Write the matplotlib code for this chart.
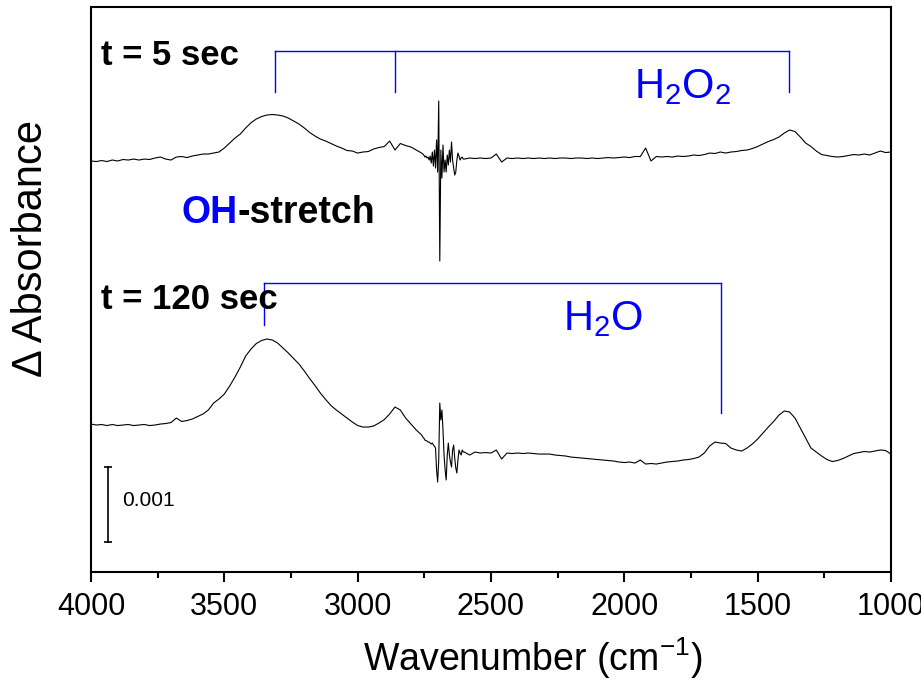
"""Stacked difference IR spectra (t = 5 s and t = 120 s) with band assignments."""

import matplotlib

matplotlib.use("Agg")
import matplotlib.pyplot as plt
import numpy as np

plt.rcParams["font.family"] = ["Liberation Sans", "DejaVu Sans"]
plt.rcParams["mathtext.fontset"] = "custom"
plt.rcParams["mathtext.rm"] = "Liberation Sans"
plt.rcParams["mathtext.it"] = "Liberation Sans:italic"
plt.rcParams["mathtext.bf"] = "Liberation Sans:bold"

# wavenumber grid (cm-1): coarse, fine around the 2700 ringing, coarse
wn_a = np.arange(4000, 2759, -20)
wn_b = np.arange(2756, 2603, -4)
wn_c = np.arange(2600, 999, -20)
wavenumber = np.concatenate([wn_a, wn_b, wn_c])

# delta absorbance in units of 1e-3
dA_5s_a = [
    -0.013, -0.02, -0.007, -0.02, 0.0, -0.013, 0.007, 0.0, 0.013, 0.0,
    0.013, 0.007, 0.027, 0.04, 0.013, 0.0, 0.04, 0.047, 0.033, 0.053,
    0.067, 0.08, 0.08, 0.093, 0.107, 0.16, 0.227, 0.293, 0.347, 0.427,
    0.497, 0.547, 0.58, 0.60, 0.607, 0.60, 0.587, 0.56, 0.52, 0.48,
    0.427, 0.367, 0.32, 0.28, 0.253, 0.22, 0.187, 0.16, 0.127, 0.12,
    0.093, 0.107, 0.113, 0.147, 0.167, 0.18, 0.253, 0.133, 0.22, 0.193,
    0.173, 0.133, 0.093,
]
dA_5s_b = [
    0.08, 0.067, 0.04, 0.053, 0.027, 0.04, 0.0, 0.053, -0.04, 0.107,
    -0.08, 0.133, -0.107, 0.267, -0.16, 0.787, -1.347, 0.133, -0.24, 0.2,
    -0.16, 0.0, -0.16, 0.067, -0.067, 0.133, -0.027, 0.24, 0.0, -0.107,
    -0.2, -0.16, 0.0, 0.093, 0.053, 0.0, 0.027, 0.04, 0.013,
]
dA_5s_c = [
    0.013, 0.027, 0.02, 0.027, 0.02, 0.027, 0.08, -0.027, 0.027, 0.02,
    0.027, 0.02, 0.027, 0.02, 0.027, 0.02, 0.027, 0.02, 0.027, 0.027,
    0.02, 0.027, 0.027, 0.02, 0.027, 0.02, 0.027, 0.033, 0.027, 0.033,
    0.04, 0.033, 0.047, 0.047, 0.16, -0.013, 0.047, 0.04, 0.047, 0.04,
    0.053, 0.047, 0.053, 0.067, 0.06, 0.073, 0.093, 0.087, 0.107, 0.093,
    0.107, 0.113, 0.127, 0.133, 0.153, 0.18, 0.213, 0.247, 0.273, 0.307,
    0.36, 0.40, 0.38, 0.307, 0.227, 0.18, 0.12, 0.073, 0.06, 0.047,
    0.04, 0.047, 0.06, 0.073, 0.067, 0.08, 0.067, 0.093, 0.12, 0.10,
    0.107,
]

dA_120s_a = [
    0.013, 0.0, 0.007, -0.007, 0.007, -0.007, 0.0, 0.007, -0.007, 0.0,
    0.007, -0.007, 0.0, 0.013, 0.02, 0.033, 0.093, 0.047, 0.06, 0.08,
    0.113, 0.147, 0.2, 0.293, 0.347, 0.413, 0.52, 0.64, 0.773, 0.92,
    1.013, 1.087, 1.127, 1.147, 1.133, 1.093, 1.027, 0.96, 0.887, 0.813,
    0.72, 0.62, 0.527, 0.427, 0.34, 0.26, 0.2, 0.147, 0.093, 0.04,
    -0.007, -0.027, -0.027, -0.013, 0.027, 0.073, 0.147, 0.24, 0.2, 0.093,
    0.013, -0.067, -0.133,
]
dA_120s_b = [
    -0.16, -0.173, -0.2, -0.207, -0.213, -0.227, -0.227, -0.24, -0.253, -0.24,
    -0.267, -0.28, -0.307, -0.6, -0.76, -0.467, 0.293, 0.067, 0.2, -0.067,
    -0.4, -0.6, -0.733, -0.4, -0.24, -0.4, -0.493, -0.56, -0.333, -0.267,
    -0.44, -0.573, -0.64, -0.467, -0.333, -0.373, -0.4, -0.333, -0.36,
]
dA_120s_c = [
    -0.36, -0.4, -0.36, -0.373, -0.367, -0.373, -0.333, -0.453, -0.373, -0.38,
    -0.373, -0.38, -0.373, -0.38, -0.387, -0.387, -0.387, -0.4, -0.407, -0.413,
    -0.427, -0.433, -0.44, -0.447, -0.453, -0.46, -0.467, -0.473, -0.48, -0.493,
    -0.5, -0.493, -0.507, -0.467, -0.52, -0.513, -0.52, -0.507, -0.493, -0.487,
    -0.48, -0.467, -0.46, -0.447, -0.427, -0.373, -0.28, -0.227, -0.24, -0.247,
    -0.307, -0.333, -0.347, -0.307, -0.253, -0.187, -0.107, -0.027, 0.047, 0.133,
    0.187, 0.173, 0.093, -0.04, -0.173, -0.307, -0.36, -0.413, -0.46, -0.487,
    -0.473, -0.447, -0.413, -0.38, -0.367, -0.353, -0.36, -0.347, -0.333, -0.34,
    -0.387,
]

dA_5s = np.array(dA_5s_a + dA_5s_b + dA_5s_c)
dA_120s = np.array(dA_120s_a + dA_120s_b + dA_120s_c)

# band positions (cm-1)
h2o2_bands = [3310, 2860, 1382]
h2o_bands = [3350, 1637]

# vertical stacking offsets (units of 1e-3)
offset_5s = 5.493
offset_120s = 1.96

fig = plt.figure(figsize=(9.21, 6.81), dpi=100)
ax = fig.add_axes([0.0988, 0.16, 0.8686, 0.8297])

ax.plot(wavenumber, dA_5s + offset_5s, color="black", lw=0.8)
ax.plot(wavenumber, dA_120s + offset_120s, color="black", lw=0.8)

# H2O2 bracket
top_y, top_drop = 6.947, 6.40
ax.plot([h2o2_bands[0], h2o2_bands[-1]], [top_y, top_y], color="blue", lw=1.0)
for b in h2o2_bands:
    ax.plot([b, b], [top_y, top_drop], color="blue", lw=1.0)

# H2O bracket
bot_y = 3.853
ax.plot([h2o_bands[0], h2o_bands[1]], [bot_y, bot_y], color="blue", lw=1.0)
ax.plot([h2o_bands[0]] * 2, [bot_y, 3.293], color="blue", lw=1.0)
ax.plot([h2o_bands[1]] * 2, [bot_y, 2.12], color="blue", lw=1.0)

ax.text(1964, 6.32, r"H$_2$O$_2$", color="blue", fontsize=30, va="baseline")
ax.text(2230, 3.227, r"H$_2$O", color="blue", fontsize=30, va="baseline")

ax.text(3962, 6.88, "t = 5 sec", fontsize=25, fontweight="bold", va="center")
ax.text(3962, 3.627, "t = 120 sec", fontsize=25, fontweight="bold", va="center")

oh = ax.text(3662, 4.787, "OH", color="blue", fontsize=27, fontweight="bold",
             va="center")
ax.annotate("-stretch", xy=(1, 0), xycoords=oh, va="bottom", ha="left",
            fontsize=27, fontweight="bold", color="black")

# 0.001 scale bar
ax.plot([3936, 3936], [0.4, 1.4], color="black", lw=1.2, marker="_",
        markersize=6, markeredgewidth=1.2)
ax.text(3884, 0.96, "0.001", fontsize=15, va="center")

ax.set_xlim(4000, 1000)
ax.set_ylim(0, 7.533)
ax.set_yticks([])
ax.set_xticks([4000, 3500, 3000, 2500, 2000, 1500, 1000])
ax.set_xticks(np.arange(3750, 1000, -500), minor=True)
ax.tick_params(axis="x", which="major", length=7.5, width=1.5, labelsize=22, pad=7)
ax.tick_params(axis="x", which="minor", length=4, width=1.5)
for s in ax.spines.values():
    s.set_linewidth(1.5)

ax.set_xlabel(r"Wavenumber (cm$^{\mathrm{-}1}$)", fontsize=27)
ax.xaxis.set_label_coords(0.5525, -0.112)
ax.set_ylabel("Δ Absorbance", fontsize=30)
ax.yaxis.set_label_coords(-0.05, 0.572)

fig.savefig("out.png", dpi=100)
